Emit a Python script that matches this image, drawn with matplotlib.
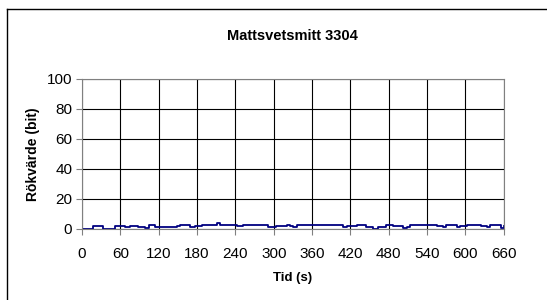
import matplotlib
matplotlib.use('Agg')

import matplotlib.pyplot as plt
from matplotlib.lines import Line2D

plt.rcParams['font.family'] = ['Liberation Sans', 'DejaVu Sans']

# smoke value (step changes, seconds -> bit)
tid = [0, 17, 33, 52, 67, 75, 88, 98, 104, 114, 127, 132, 148, 153, 169, 177,
       187, 211, 216, 242, 252, 268, 291, 304, 320, 325, 330, 336, 349, 377,
       383, 409, 414, 430, 437, 445, 456, 463, 476, 487, 503, 508, 513, 518,
       555, 565, 570, 586, 591, 602, 625, 633, 638, 655, 660]
rokvarde = [0.2, 2.2, 0.2, 2.2, 1.1, 2.2, 1.1, 0.3, 2.6, 1.1, 1.4, 1.1, 2.2,
            2.9, 1.1, 2.2, 2.9, 3.8, 2.9, 1.7, 2.6, 2.6, 1.1, 2.2, 2.6, 2.2,
            1.1, 2.6, 2.9, 2.6, 2.9, 1.1, 1.7, 2.6, 2.9, 1.4, 0.2, 1.1, 2.6,
            2.2, 0.6, 1.1, 2.6, 2.9, 2.2, 1.1, 2.6, 1.1, 2.2, 2.9, 2.2, 1.1,
            2.9, 0.3, 2.0]

x_ticks = list(range(0, 661, 60))
y_ticks = list(range(0, 101, 20))

fig = plt.figure(figsize=(5.47, 3.0), dpi=100)
ax = fig.add_axes([0.150, 0.237, 0.771, 0.500])

ax.plot(tid, rokvarde, drawstyle='steps-post', color='#000080', linewidth=1.3)

ax.set_xlim(0, 660)
ax.set_ylim(0, 100)
ax.set_xticks(x_ticks)
ax.set_yticks(y_ticks)
ax.grid(True, color='black', linewidth=0.8)
ax.tick_params(axis='both', direction='out', length=4, width=0.8,
               color='#808080', labelsize=11)
ax.tick_params(axis='x', pad=9)
ax.tick_params(axis='y', pad=3)
for s in ax.spines.values():
    s.set_color('#808080')

ax.set_title('Mattsvetsmitt 3304', fontsize=10.5, fontweight='bold', pad=28)
ax.set_xlabel('Tid (s)', fontsize=9.5, fontweight='bold', labelpad=8)
ax.set_ylabel('Rökvärde (bit)', fontsize=10, fontweight='bold', labelpad=5)

# outer chart border (only top and left visible in the crop)
fig.add_artist(Line2D([7 / 547, 1.0], [1 - 9 / 300, 1 - 9 / 300],
                      transform=fig.transFigure, color='black', linewidth=1))
fig.add_artist(Line2D([7 / 547, 7 / 547], [0, 1 - 9 / 300],
                      transform=fig.transFigure, color='black', linewidth=1))

fig.savefig('out.png', dpi=100)
